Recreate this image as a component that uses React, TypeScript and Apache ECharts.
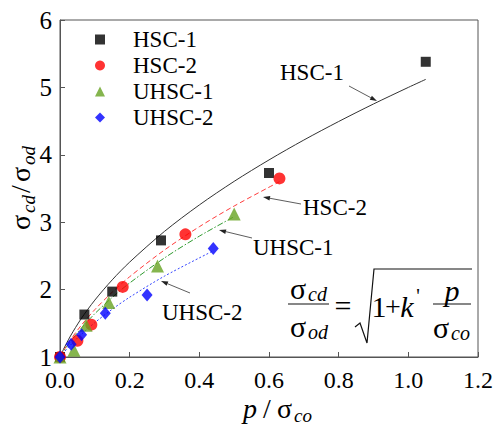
import React, { useEffect, useRef } from "react";
import * as echarts from "echarts";

const FONT = "Liberation Serif";

const seriesNames = ["HSC-1", "HSC-2", "UHSC-1", "UHSC-2"];

// Test data
const hsc1X = [0, 0.07, 0.15, 0.29, 0.6, 1.05];
const hsc1Y = [1, 1.63, 1.97, 2.73, 3.73, 5.38];
const hsc2X = [0, 0.05, 0.09, 0.18, 0.36, 0.63];
const hsc2Y = [1, 1.24, 1.48, 2.04, 2.82, 3.65];
const uhsc1X = [0, 0.04, 0.075, 0.14, 0.28, 0.5];
const uhsc1Y = [1, 1.1, 1.47, 1.81, 2.35, 3.12];
const uhsc2X = [0, 0.032, 0.062, 0.13, 0.25, 0.44];
const uhsc2Y = [1, 1.19, 1.33, 1.65, 1.92, 2.61];

// Fitted curves
const fit1X = [0, 0.01, 0.03, 0.06, 0.1, 0.15, 0.2, 0.3, 0.4, 0.5, 0.6, 0.7, 0.8, 0.9, 1.0, 1.05];
const fit1Y = [1, 1.114, 1.311, 1.562, 1.844, 2.145, 2.408, 2.864, 3.256, 3.606, 3.924, 4.219, 4.494, 4.754, 5.0, 5.119];
const fit2X = [0, 0.01, 0.03, 0.06, 0.1, 0.15, 0.2, 0.3, 0.4, 0.5, 0.63];
const fit2Y = [1, 1.091, 1.253, 1.463, 1.703, 1.962, 2.191, 2.588, 2.933, 3.24, 3.601];
const fit3X = [0, 0.01, 0.03, 0.06, 0.1, 0.15, 0.2, 0.3, 0.4, 0.5];
const fit3Y = [1, 1.082, 1.229, 1.421, 1.643, 1.884, 2.098, 2.47, 2.793, 3.082];
const fit4X = [0, 0.01, 0.03, 0.06, 0.1, 0.15, 0.2, 0.3, 0.44];
const fit4Y = [1, 1.062, 1.176, 1.33, 1.51, 1.709, 1.887, 2.2, 2.575];

const zip = (xs: number[], ys: number[]) => xs.map((x, i) => [x, ys[i]]);

function txt(
  text: string,
  x: number,
  y: number,
  size: number,
  italic = false,
  align: string = "left"
): any {
  return {
    type: "text",
    x,
    y,
    z: 10,
    style: {
      text,
      font: `${italic ? "italic " : ""}${size}px '${FONT}'`,
      fill: "#000",
      textAlign: align,
      textVerticalAlign: "middle",
      align,
      verticalAlign: "middle",
    },
  };
}

function arrow(x1: number, y1: number, x2: number, y2: number): any[] {
  const dx = x2 - x1;
  const dy = y2 - y1;
  const L = Math.hypot(dx, dy);
  const ux = dx / L;
  const uy = dy / L;
  const hl = 7;
  const hw = 2.3;
  const bx = x2 - ux * hl;
  const by = y2 - uy * hl;
  return [
    {
      type: "line",
      z: 10,
      shape: { x1, y1, x2: bx, y2: by },
      style: { stroke: "#333", lineWidth: 0.8 },
    },
    {
      type: "polygon",
      z: 10,
      shape: {
        points: [
          [x2, y2],
          [bx - uy * hw, by + ux * hw],
          [bx + uy * hw, by - ux * hw],
        ],
      },
      style: { fill: "#222" },
    },
  ];
}

export default function App() {
  const ref = useRef<HTMLDivElement>(null);
  useEffect(() => {
    const chart = echarts.init(ref.current!, null, { renderer: "svg" });

    const axisLine = { show: true, onZero: false, lineStyle: { color: "#555", width: 1 } };
    const axisTick = { show: true, inside: true, length: 5, lineStyle: { color: "#555" } };

    const graphic: any[] = [
      // annotations
      txt("HSC-1", 280, 72, 23),
      ...arrow(349, 86, 377, 101),
      txt("HSC-2", 303, 207, 23),
      ...arrow(301, 204, 263, 197),
      txt("UHSC-1", 253, 247, 23),
      ...arrow(252, 238, 219, 230),
      txt("UHSC-2", 162, 312, 23),
      ...arrow(190, 293, 161, 281),
      // x axis title
      txt("p", 243, 408, 28, true),
      txt("/", 263, 408, 28),
      txt("σ", 277, 408, 28),
      txt("co", 294, 415, 19, true),
      // y axis title (rotated)
      {
        type: "group",
        x: 20,
        y: 187,
        rotation: Math.PI / 2,
        children: [
          txt("σ", -43, 0, 28),
          txt("cd", -26, 8, 19, true),
          txt("/", -6, 0, 28),
          txt("σ", 5, 0, 28),
          txt("od", 22, 8, 19, true),
        ],
      },
      // formula
      txt("σ", 290, 288, 30),
      txt("cd", 308, 294, 20, true),
      {
        type: "line",
        z: 10,
        shape: { x1: 288, y1: 304, x2: 329, y2: 304 },
        style: { stroke: "#111", lineWidth: 1.2 },
      },
      txt("σ", 290, 326, 30),
      txt("od", 308, 332, 20, true),
      txt("=", 343, 305, 30, false, "center"),
      {
        type: "polyline",
        z: 10,
        shape: {
          points: [
            [355, 327],
            [360, 323],
            [367, 343],
            [374, 269],
            [472, 269],
          ],
        },
        style: { stroke: "#111", lineWidth: 1.2, fill: null },
      },
      txt("1", 379, 306, 30, false, "center"),
      txt("+", 393, 306, 28, false, "center"),
      txt("k", 407, 306, 30, true, "center"),
      txt("'", 418, 296, 20, false, "center"),
      {
        type: "line",
        z: 10,
        shape: { x1: 433, y1: 304, x2: 471, y2: 304 },
        style: { stroke: "#111", lineWidth: 1.2 },
      },
      txt("p", 452, 290, 30, true, "center"),
      txt("σ", 433, 327, 30),
      txt("co", 451, 333, 20, true),
    ];

    const option: any = {
      animation: false,
      backgroundColor: "#fff",
      grid: {
        left: 60,
        top: 20,
        right: 19,
        bottom: 67,
        show: true,
        borderColor: "#555",
        borderWidth: 1,
      },
      legend: {
        orient: "vertical",
        left: 95,
        top: 28,
        itemWidth: 10,
        itemHeight: 10,
        itemGap: 3,
        padding: 0,
        data: seriesNames,
        textStyle: {
          fontFamily: FONT,
          fontSize: 23,
          color: "#000",
          padding: [0, 0, 0, 23],
        },
      },
      xAxis: {
        type: "value",
        min: 0,
        max: 1.2,
        interval: 0.2,
        axisLine,
        axisTick,
        splitLine: { show: false },
        axisLabel: {
          color: "#000",
          fontFamily: FONT,
          fontSize: 24,
          margin: 11,
          formatter: (v: number) => v.toFixed(1),
        },
      },
      yAxis: {
        type: "value",
        min: 1,
        max: 6,
        interval: 1,
        axisLine,
        axisTick,
        splitLine: { show: false },
        axisLabel: {
          color: "#000",
          fontFamily: FONT,
          fontSize: 25,
          margin: 8,
        },
      },
      series: [
        {
          type: "line",
          name: "fit HSC-1",
          data: zip(fit1X, fit1Y),
          symbol: "none",
          smooth: 0.3,
          silent: true,
          z: 1,
          lineStyle: { color: "#333", width: 1, type: "solid" },
        },
        {
          type: "line",
          name: "fit HSC-2",
          data: zip(fit2X, fit2Y),
          symbol: "none",
          smooth: 0.3,
          silent: true,
          z: 1,
          lineStyle: { color: "#ff3b3b", width: 1, type: [5, 3] },
        },
        {
          type: "line",
          name: "fit UHSC-1",
          data: zip(fit3X, fit3Y),
          symbol: "none",
          smooth: 0.3,
          silent: true,
          z: 1,
          lineStyle: { color: "#2f9a2f", width: 1, type: [6, 2, 1.5, 2] },
        },
        {
          type: "line",
          name: "fit UHSC-2",
          data: zip(fit4X, fit4Y),
          symbol: "none",
          smooth: 0.3,
          silent: true,
          z: 1,
          lineStyle: { color: "#3344ff", width: 1, type: [2, 2] },
        },
        {
          type: "scatter",
          name: "HSC-1",
          data: zip(hsc1X, hsc1Y),
          symbol: "rect",
          symbolSize: 10,
          itemStyle: { color: "#000" },
          z: 3,
        },
        {
          type: "scatter",
          name: "HSC-2",
          data: zip(hsc2X, hsc2Y),
          symbol: "circle",
          symbolSize: 12,
          itemStyle: { color: "#ff0000" },
          z: 3,
        },
        {
          type: "scatter",
          name: "UHSC-1",
          data: zip(uhsc1X, uhsc1Y),
          symbol: "triangle",
          symbolSize: 13,
          itemStyle: { color: "#66a322" },
          z: 3,
        },
        {
          type: "scatter",
          name: "UHSC-2",
          data: zip(uhsc2X, uhsc2Y),
          symbol: "diamond",
          symbolSize: [11, 13],
          itemStyle: { color: "#0000ff" },
          z: 3,
        },
      ],
      graphic,
    };

    chart.setOption(option);
    return () => chart.dispose();
  }, []);

  return (
    <div
      ref={ref}
      style={{ position: "fixed", left: 0, top: 0, width: 497, height: 424, background: "#fff" }}
    />
  );
}
